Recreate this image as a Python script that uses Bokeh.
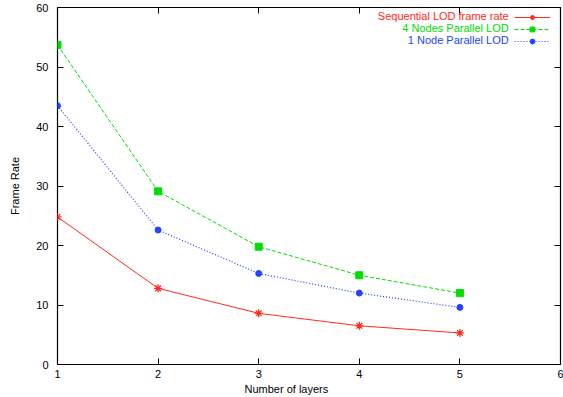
from bokeh.plotting import figure
from bokeh.models import LinearAxis, Legend, LegendItem, FixedTicker, Label, Range1d, Title
from bokeh.embed import file_html
from bokeh.resources import INLINE

layers = [1, 2, 3, 4, 5]
sequential = [24.8, 12.8, 8.6, 6.5, 5.3]
nodes4 = [53.7, 29.1, 19.8, 15.0, 12.0]
node1 = [43.5, 22.6, 15.3, 12.0, 9.6]
x_ticks = [1, 2, 3, 4, 5, 6]
y_ticks = [0, 10, 20, 30, 40, 50, 60]
names = ["Sequential LOD frame rate", "4 Nodes Parallel LOD", "1 Node Parallel LOD"]

FONT = "Liberation Sans"
RED, GREEN, BLUE = "#ff2a1a", "#00dd00", "#2244ff"

p = figure(width=563, height=397, output_backend="svg", toolbar_location=None,
           x_range=Range1d(1, 6), y_range=Range1d(0, 60),
           min_border_left=57, min_border_right=3, min_border_top=7, min_border_bottom=33)
p.background_fill_color = "white"
p.border_fill_color = "white"
p.outline_line_color = "black"
p.outline_line_width = 1.2
p.xgrid.visible = False
p.ygrid.visible = False

def style_axis(ax, ticks, show_labels=True):
    ax.ticker = FixedTicker(ticks=ticks)
    ax.major_tick_in = 6
    ax.major_tick_out = 0
    ax.minor_tick_line_color = None
    ax.axis_line_color = None
    ax.major_tick_line_color = "black"
    ax.major_label_text_font = FONT
    ax.major_label_text_font_size = "11px"
    ax.major_label_text_color = "black"
    ax.axis_label_text_font = FONT
    ax.axis_label_text_font_size = "11px"
    ax.axis_label_text_font_style = "normal"
    ax.axis_label_text_color = "black"
    if not show_labels:
        ax.major_label_standoff = 0
        ax.major_label_text_font_size = "0px"
        ax.major_label_text_alpha = 0
        ax.major_label_overrides = {t: "" for t in ticks}

style_axis(p.xaxis[0], x_ticks)
style_axis(p.yaxis[0], y_ticks)
p.yaxis[0].axis_label = "Frame Rate"
p.xaxis[0].major_label_standoff = 5
p.yaxis[0].major_label_standoff = 9
p.yaxis[0].axis_label_standoff = 12

top_ax = LinearAxis()
style_axis(top_ax, x_ticks, show_labels=False)
p.add_layout(top_ax, "above")
right_ax = LinearAxis()
style_axis(right_ax, y_ticks, show_labels=False)
p.add_layout(right_ax, "right")

# x-axis title (gnuplot places it slightly left of the frame centre)
xt = Title(text="Number of layers", align="left", offset=187, standoff=0,
           text_font=FONT, text_font_size="11px", text_font_style="normal",
           text_color="black")
p.add_layout(xt, "below")

l1 = p.line(layers, sequential, line_color=RED, line_width=1)
s1 = p.scatter(layers, sequential, marker="asterisk", size=8, line_color=RED, line_width=1.3)
l2 = p.line(layers, nodes4, line_color=GREEN, line_width=1, line_dash="4 2")
s2 = p.scatter(layers, nodes4, marker="square", size=7, fill_color=GREEN, line_color=GREEN)
l3 = p.line(layers, node1, line_color=BLUE, line_width=1.2, line_dash="1 2")
s3 = p.scatter(layers, node1, marker="circle", size=6, fill_color=BLUE, line_color=BLUE)

legend = Legend(items=[LegendItem(label=" ", renderers=[l1, s1]),
                       LegendItem(label=" ", renderers=[l2, s2]),
                       LegendItem(label=" ", renderers=[l3, s3])],
                location=(457, 317), glyph_width=36, glyph_height=12, label_height=12,
                spacing=0, padding=0, margin=0, label_standoff=0, label_width=1,
                border_line_color=None, background_fill_alpha=0,
                label_text_font_size="11px")
p.add_layout(legend)

for name, color, yv in zip(names, [RED, GREEN, BLUE], [58.6, 56.6, 54.6]):
    p.add_layout(Label(x=5.485, y=yv, text=name, text_align="right", text_baseline="middle",
                       text_font=FONT, text_font_size="11px", text_color=color))

open("out.html", "w").write(file_html(p, INLINE))
